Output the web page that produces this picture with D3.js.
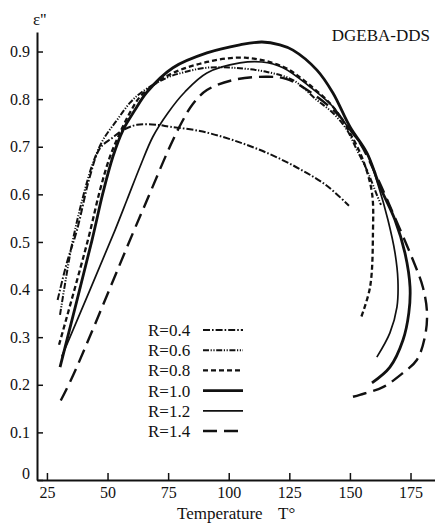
<!DOCTYPE html>
<html>
<head>
<meta charset="utf-8">
<script src="https://cdn.jsdelivr.net/npm/d3@7/dist/d3.min.js"></script>
<style>
  body { margin: 0; background: #fff; }
  svg { display: block; }
  text { font-family: "Liberation Serif", "Times New Roman", serif; fill: #111; }
</style>
</head>
<body>
<svg id="chart" width="435" height="523"></svg>
<script>

// tick values
var tempTicks = [25, 50, 75, 100, 125, 150, 175];
var epsTicks = [0, 0.1, 0.2, 0.3, 0.4, 0.5, 0.6, 0.7, 0.8, 0.9];

// legend labels
var seriesNames = ['R=0.4', 'R=0.6', 'R=0.8', 'R=1.0', 'R=1.2', 'R=1.4'];

// [temperature, eps'']; curves bend back at high T
var r04 = [[29.4, 0.378], [33.3, 0.458], [37.4, 0.525], [42.7, 0.637], [46.9, 0.697],
    [51.8, 0.718], [56.4, 0.735], [62.1, 0.746], [70.4, 0.746], [75.7, 0.742],
    [88.1, 0.733], [101.7, 0.714], [115.8, 0.687], [129.4, 0.653], [140.5, 0.618],
    [149.6, 0.576]];

var r06 = [[30.4, 0.347], [35.3, 0.494], [39.9, 0.595], [44.0, 0.666], [48.1, 0.714],
    [53.9, 0.756], [59.2, 0.792], [64.2, 0.815], [74.5, 0.845], [81.9, 0.857],
    [91.0, 0.866], [101.7, 0.866], [115.8, 0.857], [126.5, 0.840], [136.4, 0.798],
    [143.0, 0.771], [148.8, 0.735], [152.9, 0.693], [157.0, 0.651], [161.1, 0.599],
    [162.8, 0.578]];

var r08 = [[30.0, 0.284], [41.9, 0.504], [46.9, 0.609], [51.0, 0.679], [55.1, 0.729],
    [59.2, 0.771], [63.4, 0.805], [69.6, 0.832], [77.0, 0.855], [91.0, 0.878],
    [106.7, 0.887], [122.4, 0.868], [132.3, 0.834], [143.0, 0.784], [150.0, 0.729],
    [155.4, 0.672], [159.1, 0.603], [159.5, 0.519], [158.3, 0.405], [154.5, 0.340]];

var r10 = [[30.4, 0.237], [43.6, 0.504], [48.1, 0.603], [52.2, 0.679], [56.4, 0.735],
    [61.3, 0.777], [66.3, 0.815], [77.0, 0.866], [91.0, 0.897], [104.6, 0.914],
    [113.7, 0.920], [121.1, 0.914], [126.5, 0.903], [136.4, 0.861], [143.0, 0.813],
    [150.0, 0.742], [157.0, 0.687], [162.4, 0.616], [168.6, 0.546], [172.7, 0.477],
    [174.8, 0.405], [174.3, 0.351], [171.9, 0.294], [166.5, 0.237], [159.1, 0.204]];

var r12 = [[31.1, 0.259], [53.1, 0.525], [58.0, 0.588], [63.4, 0.658], [68.7, 0.721],
    [74.9, 0.771], [81.9, 0.815], [91.0, 0.855], [104.6, 0.876], [113.7, 0.878],
    [122.4, 0.866], [133.5, 0.826], [143.0, 0.784], [150.0, 0.735], [157.0, 0.687],
    [161.6, 0.620], [165.7, 0.546], [168.6, 0.477], [169.8, 0.420], [169.4, 0.363],
    [166.5, 0.309], [161.1, 0.258]];

var r14 = [[30.7, 0.167], [35.9, 0.221], [60.5, 0.519], [66.3, 0.588], [75.7, 0.700],
    [80.7, 0.752], [85.2, 0.790], [91.0, 0.819], [101.7, 0.840], [115.8, 0.847],
    [124.0, 0.842], [136.4, 0.805], [145.9, 0.763], [154.1, 0.708], [161.1, 0.637],
    [167.7, 0.561], [176.0, 0.462], [180.1, 0.405], [181.8, 0.351], [180.9, 0.300],
    [177.6, 0.252], [171.9, 0.225], [163.6, 0.195], [154.1, 0.179], [149.2, 0.172]];

var series = [r04, r06, r08, r10, r12, r14];

// line look per series
var styles = [
    { width: 2.0, dash: '7,2,1.6,2' },
    { width: 2.0, dash: '6,1.6,1.2,1.6,1.2,1.6' },
    { width: 2.3, dash: '5,3' },
    { width: 2.8, dash: null },
    { width: 1.7, dash: null },
    { width: 2.4, dash: '14,7' }
];

var serif = '"Liberation Serif", "Times New Roman", serif';

var svg = d3.select('#chart');

var x = d3.scaleLinear().domain([20.9, 185.1]).range([37, 435]);
var y = d3.scaleLinear().domain([0, 0.941]).range([480, 32]);

// axes
var xAxis = d3.axisBottom(x)
    .tickValues(tempTicks)
    .tickSizeInner(-7)
    .tickSizeOuter(0)
    .tickPadding(7);

var yAxis = d3.axisLeft(y)
    .tickValues(epsTicks)
    .tickSizeInner(-6)
    .tickSizeOuter(0)
    .tickPadding(7)
    .tickFormat(function (d) { return d === 0 ? '0' : d3.format('.1f')(d); });

var gx = svg.append('g')
    .attr('transform', 'translate(0,480)')
    .call(xAxis);

var gy = svg.append('g')
    .attr('transform', 'translate(37,0)')
    .call(yAxis);

[gx, gy].forEach(function (g) {
    g.attr('font-family', serif).attr('font-size', 16);
    g.select('.domain').attr('stroke', '#111').attr('stroke-width', 2);
    g.selectAll('.tick line').attr('stroke', '#111').attr('stroke-width', 1.5);
    g.selectAll('.tick text')
        .attr('fill', '#111')
        .attr('font-family', serif)
        .style('font-family', serif)
        .style('font-size', '16px');
});

// the zero label sits a bit above the x axis
gy.selectAll('.tick')
    .filter(function (d) { return d === 0; })
    .select('text')
    .attr('dy', '-0.12em');

// curves
var line = d3.line()
    .x(function (d) { return x(d[0]); })
    .y(function (d) { return y(d[1]); })
    .curve(d3.curveCatmullRom.alpha(0.5));

svg.append('g')
    .selectAll('path')
    .data(series)
    .enter()
    .append('path')
    .attr('d', line)
    .attr('fill', 'none')
    .attr('stroke', '#111')
    .attr('stroke-width', function (d, i) { return styles[i].width; })
    .attr('stroke-dasharray', function (d, i) { return styles[i].dash; });

// legend
var legend = svg.append('g')
    .selectAll('g')
    .data(seriesNames)
    .enter()
    .append('g')
    .attr('transform', function (d, i) { return 'translate(148,' + (336 + i * 20.2) + ')'; });

legend.append('text')
    .attr('x', 0)
    .attr('y', 0)
    .style('font-size', '17px')
    .text(function (d) { return d; });

legend.append('line')
    .attr('x1', 55)
    .attr('x2', 95)
    .attr('y1', -6)
    .attr('y2', -6)
    .attr('stroke', '#111')
    .attr('stroke-width', function (d, i) { return styles[i].width; })
    .attr('stroke-dasharray', function (d, i) { return styles[i].dash; });

// labels
svg.append('text')
    .attr('x', 33)
    .attr('y', 25)
    .style('font-size', '17px')
    .text("ε''");

svg.append('text')
    .attr('x', 430)
    .attr('y', 41)
    .attr('text-anchor', 'end')
    .style('font-size', '17px')
    .text('DGEBA-DDS');

svg.append('text')
    .attr('x', 177)
    .attr('y', 519)
    .style('font-size', '17px')
    .text('Temperature');

svg.append('text')
    .attr('x', 278)
    .attr('y', 519)
    .style('font-size', '17px')
    .text('T°');

</script>
</body>
</html>
